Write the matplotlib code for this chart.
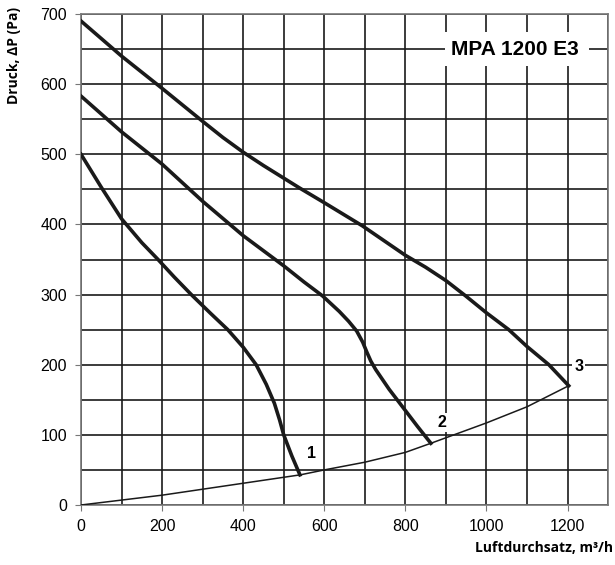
import matplotlib
matplotlib.use("Agg")
import matplotlib.pyplot as plt
from matplotlib.patches import Rectangle

plt.rcParams["font.family"] = ["Liberation Sans", "DejaVu Sans"]

# Kennlinien (Luftdurchsatz m3/h, Druck Pa)
curve1_x = [0, 50, 100, 150, 190, 230, 272, 320, 362, 400, 432, 457, 477, 490, 500, 520, 540]
curve1_y = [500, 453, 408, 374, 350, 325, 300, 273, 250, 225, 200, 172, 145, 121, 100, 70, 43]

curve2_x = [0, 100, 200, 300, 400, 500, 550, 596, 637, 660, 680, 695, 705, 715, 727,
            760, 797, 830, 863]
curve2_y = [583, 532, 486, 433, 384, 341, 318, 298, 276, 262, 248, 232, 218, 205, 193,
            165, 137, 112, 88]

curve3_x = [0, 100, 200, 300, 350, 400, 450, 539, 600, 694, 800, 850, 900, 949, 1000,
            1055, 1100, 1154, 1203]
curve3_y = [690, 640, 594, 547, 524, 503, 484, 452, 431, 398, 356, 339, 320, 298, 274,
            250, 226, 200, 170]

system_x = [0, 200, 400, 541, 600, 700, 800, 863, 1000, 1100, 1203]
system_y = [0, 14, 31, 43, 50, 61, 75, 88, 117, 140, 170]

curve_labels = ["1", "2", "3"]
label_pos = [(568, 74), (891, 118), (1228, 198)]

fig = plt.figure(figsize=(6.15, 5.65), dpi=100)
ax = fig.add_axes([0.1317, 0.1062, 0.857, 0.869])

ax.set_xlim(0, 1300)
ax.set_ylim(0, 700)
ax.set_xticks(range(0, 1201, 200))
ax.set_yticks(range(0, 701, 100))
ax.set_xticks(range(0, 1301, 100), minor=True)
ax.set_yticks(range(0, 701, 50), minor=True)
ax.grid(which="both", color="#1a1a1a", lw=1.2)
ax.set_axisbelow(True)
ax.tick_params(which="minor", length=0)
ax.tick_params(which="major", length=4, color="#777777", labelsize=11.5, pad=6)
for s in ax.spines.values():
    s.set_color("#777777")
    s.set_linewidth(1.2)

for xs, ys in [(curve1_x, curve1_y), (curve2_x, curve2_y), (curve3_x, curve3_y)]:
    ax.plot(xs, ys, color="#1a1a1a", lw=2.6, solid_joinstyle="round", zorder=3)
ax.plot(system_x, system_y, color="#1a1a1a", lw=1.1, zorder=3)

for lab, (lx, ly) in zip(curve_labels, label_pos):
    ax.text(lx, ly, lab, fontsize=11.5, fontweight="bold", ha="center", va="center",
            zorder=4, bbox=dict(facecolor="white", edgecolor="none", pad=1.5))

# weisses Feld fuer den Typnamen
ax.add_patch(Rectangle((897, 626), 355, 48, facecolor="white", edgecolor="none", zorder=2))
ax.text(1069, 650, "MPA 1200 E3", fontsize=15, fontweight="bold", ha="center",
        va="center", zorder=4)

fig.text(0.012, 0.987, "Druck, \u0394P (Pa)", rotation=90, ha="left", va="top",
         fontsize=10, fontweight="bold", family=["Open Sans", "DejaVu Sans"])
fig.text(0.997, 0.03, "Luftdurchsatz, m\u00b3/h", ha="right", va="center",
         fontsize=10, fontweight="bold", family=["Open Sans", "DejaVu Sans"])

fig.savefig("out.png", dpi=100)
